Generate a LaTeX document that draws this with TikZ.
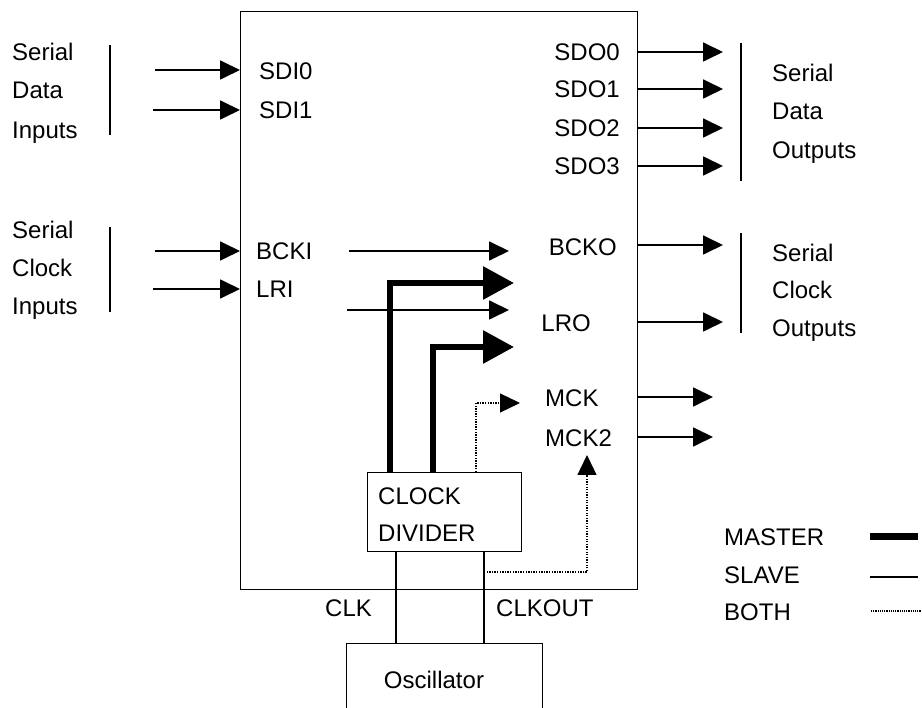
\documentclass[tikz,border=0pt]{standalone}
\usepackage{fontspec}
\setmainfont{Liberation Sans}
\usetikzlibrary{arrows.meta}
\tikzset{
  lab/.style={font=\fontsize{24}{28}\selectfont, inner sep=0pt, text height=17pt, text depth=0pt},
  sl/.style={line width=1.8pt, -{Triangle[length=20pt,width=19pt]}},
  ms/.style={line width=6pt, -{Triangle[length=31pt,width=32pt]}},
  bt/.style={line width=1.3pt, dash pattern=on 1.3pt off 1.3pt, -{Triangle[length=20pt,width=19pt]}},
  bar/.style={line width=1.5pt},
  wire/.style={line width=1.2pt},
  boxst/.style={draw, line width=1.1pt, inner sep=0pt, anchor=north west}
}
\begin{document}
\begin{tikzpicture}[x=1pt,y=-1pt]
\useasboundingbox (0,0) rectangle (922,708);
% main chip
\node[boxst, minimum width=397pt, minimum height=578pt] (chip) at (240,11) {};
% clock divider
\node[boxst, minimum width=154pt, minimum height=79pt] (cd) at (367,472) {};
\node[lab, anchor=west] (cdt1) at (378,496) {CLOCK};
\node[lab, anchor=west] (cdt2) at (378,533) {DIVIDER};
% oscillator
\node[boxst, minimum width=196pt, minimum height=90pt] (osc) at (346,643) {};
\node[lab] (osct) at (434,680) {Oscillator};

% left groups
\node[lab, anchor=west] (l1) at (12,52) {Serial};
\node[lab, anchor=west] (l2) at (12,90) {Data};
\node[lab, anchor=west] (l3) at (12,130) {Inputs};
\coordinate (b1t) at (110,45); \coordinate (b1b) at (110,135);
\draw[bar] (b1t) -- (b1b);
\node[lab, anchor=west] (l4) at (12,230) {Serial};
\node[lab, anchor=west] (l5) at (12,268) {Clock};
\node[lab, anchor=west] (l6) at (12,306) {Inputs};
\coordinate (b2t) at (110,227); \coordinate (b2b) at (110,312);
\draw[bar] (b2t) -- (b2b);

% input labels
\node[lab, anchor=west] (sdi0) at (259,71) {SDI0};
\node[lab, anchor=west] (sdi1) at (259,110) {SDI1};
\node[lab, anchor=west] (bcki) at (256,251) {BCKI};
\node[lab, anchor=west] (lri) at (256,289) {LRI};
\coordinate (isdi0) at (155,70);
\coordinate (isdi1) at (153,110);
\coordinate (ibcki) at (155,251);
\coordinate (ilri) at (153,289);
\draw[sl] (isdi0) -- (isdi0 -| chip.west);
\draw[sl] (isdi1) -- (isdi1 -| chip.west);
\draw[sl] (ibcki) -- (ibcki -| chip.west);
\draw[sl] (ilri) -- (ilri -| chip.west);

% output labels
\node[lab, anchor=east] (sdo0) at (620,52) {SDO0};
\node[lab, anchor=east] (sdo1) at (620,89) {SDO1};
\node[lab, anchor=east] (sdo2) at (620,128) {SDO2};
\node[lab, anchor=east] (sdo3) at (620,166) {SDO3};
\node[lab, anchor=east] (bcko) at (617,247) {BCKO};
\node[lab, anchor=east] (lro) at (591,323) {LRO};
\node[lab, anchor=west] (mck) at (545,398) {MCK};
\node[lab, anchor=west] (mck2) at (545,438) {MCK2};
\coordinate (osdo0) at (723,52);
\coordinate (osdo1) at (723,89);
\coordinate (osdo2) at (723,128);
\coordinate (osdo3) at (723,166);
\coordinate (obcko) at (723,245);
\coordinate (olro) at (723,322);
\coordinate (omck) at (713,397);
\coordinate (omck2) at (713,437);
\foreach \c in {osdo0,osdo1,osdo2,osdo3,obcko,olro,omck,omck2}
  \draw[sl] (\c -| chip.east) -- (\c);

% right groups
\coordinate (b3t) at (741,43); \coordinate (b3b) at (741,181);
\draw[bar] (b3t) -- (b3b);
\node[lab, anchor=west] (r1) at (772,73) {Serial};
\node[lab, anchor=west] (r2) at (772,111) {Data};
\node[lab, anchor=west] (r3) at (772,150) {Outputs};
\coordinate (b4t) at (741,233); \coordinate (b4b) at (741,333);
\draw[bar] (b4t) -- (b4b);
\node[lab, anchor=west] (r4) at (772,253) {Serial};
\node[lab, anchor=west] (r5) at (772,290) {Clock};
\node[lab, anchor=west] (r6) at (772,328) {Outputs};

% internal slave paths
\coordinate (s1a) at (349,251); \coordinate (s1b) at (509,251);
\draw[sl] (s1a) -- (s1b);
\coordinate (s2a) at (347,310); \coordinate (s2b) at (509,310);
\draw[sl] (s2a) -- (s2b);

% master paths
\coordinate (m1) at (514,283);
\coordinate (m2) at (514,347);
\draw[ms] ([xshift=23pt]cd.north west) |- (m1);
\draw[ms] ([xshift=66pt]cd.north west) |- (m2);

% both paths
\coordinate (bm) at (520,403);
\draw[bt] ([xshift=109pt]cd.north west) |- (bm);
\coordinate (bt2) at (587,455);
\coordinate (clkoutjoin) at (484,572);
\draw[bt] (clkoutjoin) -| (bt2);

% clock wires
\draw[wire] ([xshift=29pt]cd.south west) -- ([xshift=50pt]osc.north west);
\draw[wire] ([xshift=117pt]cd.south west) -- ([xshift=138pt]osc.north west);
\node[lab, anchor=west] (clk) at (325,608) {CLK};
\node[lab, anchor=west] (clkout) at (496,608) {CLKOUT};

% legend
\node[lab, anchor=west] (lgm) at (724,537) {MASTER};
\node[lab, anchor=west] (lgs) at (724,575) {SLAVE};
\node[lab, anchor=west] (lgb) at (724,612) {BOTH};
\coordinate (lm1) at (870,537); \coordinate (lm2) at (918,537);
\coordinate (ls1) at (870,577); \coordinate (ls2) at (918,577);
\coordinate (lb1) at (871,611); \coordinate (lb2) at (921,611);
\draw[line width=7pt] (lm1) -- (lm2);
\draw[line width=1.5pt] (ls1) -- (ls2);
\draw[line width=1.1pt, dash pattern=on 1.1pt off 1.1pt] (lb1) -- (lb2);
\end{tikzpicture}
\end{document}
